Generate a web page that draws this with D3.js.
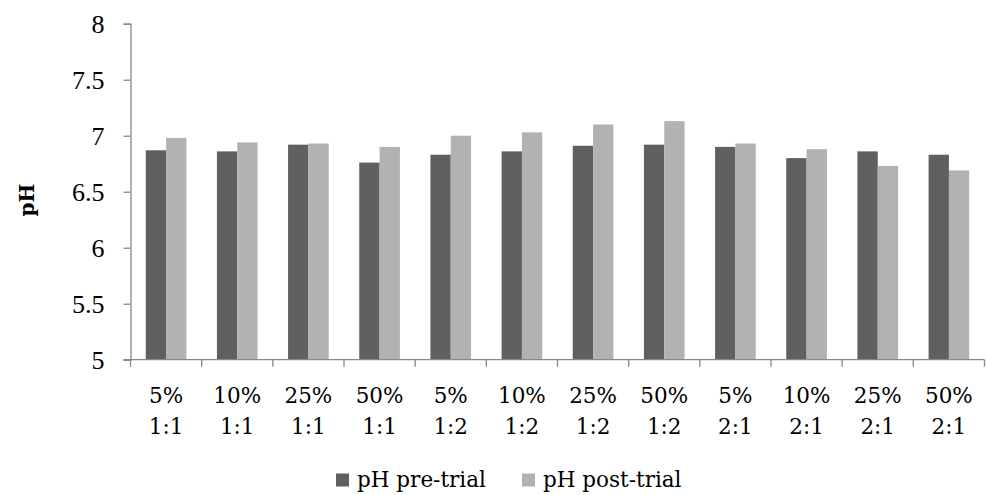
<!DOCTYPE html>
<html>
<head>
<meta charset="utf-8">
<script src="https://cdn.jsdelivr.net/npm/d3@7"></script>
<style>
  html, body { margin: 0; padding: 0; background: #fff; }
  svg { display: block; }
  text { font-family: "DejaVu Serif", serif; fill: #000; }
</style>
</head>
<body>
<svg id="chart" width="986" height="495"></svg>
<script>
const concentrations = ["5%", "10%", "25%", "50%", "5%", "10%", "25%", "50%", "5%", "10%", "25%", "50%"];
const ratios = ["1:1", "1:1", "1:1", "1:1", "1:2", "1:2", "1:2", "1:2", "2:1", "2:1", "2:1", "2:1"];
const seriesNames = ["pH pre-trial", "pH post-trial"];
const preTrial = [6.87, 6.86, 6.92, 6.76, 6.83, 6.86, 6.91, 6.92, 6.90, 6.80, 6.86, 6.83];
const postTrial = [6.98, 6.94, 6.93, 6.90, 7.00, 7.03, 7.10, 7.13, 6.93, 6.88, 6.73, 6.69];
const yTicks = [5, 5.5, 6, 6.5, 7, 7.5, 8];
const colors = ["#606060", "#b2b2b2"];

(function () {
const svg = d3.select("#chart");
const mLeft = 130.5, mRight = 984.5, mTop = 23.7, mBottom = 359.7;

const idx = d3.range(concentrations.length);
const x0 = d3.scaleBand().domain(idx).range([mLeft, mRight])
  .paddingInner(0.4286).paddingOuter(0.2143);
const x1 = d3.scaleBand().domain([0, 1]).range([0, x0.bandwidth()]).padding(0);
const y = d3.scaleLinear().domain([5, 8]).range([mBottom, mTop]);

// bars
const series = [preTrial, postTrial];
const groups = svg.append("g").selectAll("g").data(idx).join("g")
  .attr("transform", i => `translate(${x0(i)},0)`);
groups.selectAll("rect").data(i => series.map((s, k) => ({k, v: s[i]})))
  .join("rect")
  .attr("x", d => x1(d.k))
  .attr("width", x1.bandwidth())
  .attr("y", d => y(d.v))
  .attr("height", d => y(5) - y(d.v))
  .attr("fill", d => colors[d.k]);

// y axis
const yAxis = svg.append("g").attr("transform", `translate(${mLeft},0)`)
  .call(d3.axisLeft(y).tickValues(yTicks).tickSize(7).tickPadding(19).tickFormat(d3.format("")));
yAxis.select(".domain").attr("stroke", "#888888").attr("stroke-width", 1.3);
yAxis.selectAll(".tick line").attr("stroke", "#888888").attr("stroke-width", 1.3);
yAxis.selectAll(".tick text")
  .style("font-family", "'Liberation Serif', serif").style("font-size", "26px")
  .attr("fill", "#000").attr("dy", "0.34em");

// x axis line and ticks at category boundaries
const step = x0.step();
const boundaries = d3.range(concentrations.length + 1).map(i => mLeft + i * step);
svg.append("line").attr("x1", mLeft - 7).attr("x2", mRight).attr("y1", mBottom).attr("y2", mBottom)
  .attr("stroke", "#888888").attr("stroke-width", 1.3);
svg.append("g").selectAll("line").data(boundaries).join("line")
  .attr("x1", d => d).attr("x2", d => d).attr("y1", mBottom).attr("y2", mBottom + 7)
  .attr("stroke", "#888888").attr("stroke-width", 1.3);

// x labels
const xl = svg.append("g").selectAll("text").data(idx).join("text")
  .attr("x", i => x0(i) + x0.bandwidth() / 2)
  .attr("text-anchor", "middle")
  .style("font-size", "21.5px");
xl.append("tspan").attr("x", i => x0(i) + x0.bandwidth() / 2).attr("y", 403).text(i => concentrations[i]);
xl.append("tspan").attr("x", i => x0(i) + x0.bandwidth() / 2).attr("y", 434).text(i => ratios[i]);

// y title
svg.append("text").attr("transform", "translate(34,200) rotate(-90)")
  .attr("text-anchor", "middle").style("font-size", "20px").style("font-weight", "bold").text("pH");

// legend
const legendX = [336, 522];
const lg = svg.append("g").selectAll("g").data(seriesNames).join("g")
  .attr("transform", (d, i) => `translate(${legendX[i]},0)`);
lg.append("rect").attr("x", 0).attr("y", 473.5).attr("width", 13).attr("height", 13)
  .attr("fill", (d, i) => colors[i]);
lg.append("text").attr("x", 21).attr("y", 487).style("font-size", "21.5px").text(d => d);
})();
</script>
</body>
</html>
